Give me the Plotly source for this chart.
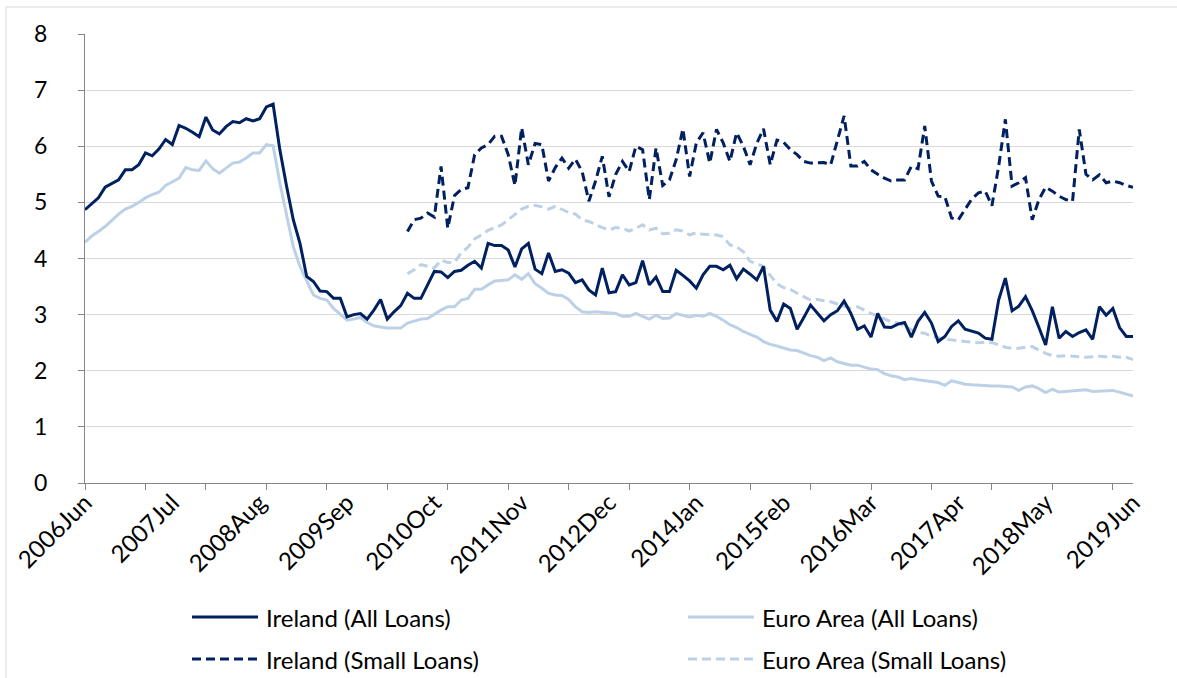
import plotly.graph_objects as go

# ---------------- data (monthly, 2006 Jun .. 2019 Jun) ----------------
month_index = list(range(157))
tick_labels = ["2006Jun", "2007Jul", "2008Aug", "2009Sep", "2010Oct", "2011Nov", "2012Dec",
               "2014Jan", "2015Feb", "2016Mar", "2017Apr", "2018May", "2019Jun"]
tick_positions = list(range(0, 157, 13))
minor_tick_positions = list(range(0, 157, 9))

ireland_all = [
    4.87, 4.97, 5.08, 5.27, 5.33, 5.40, 5.58, 5.58, 5.67, 5.88,
    5.83, 5.95, 6.12, 6.03, 6.37, 6.32, 6.25, 6.17, 6.52, 6.29,
    6.22, 6.35, 6.44, 6.42, 6.49, 6.45, 6.49, 6.70, 6.75, 5.94,
    5.29, 4.69, 4.27, 3.68, 3.59, 3.42, 3.41, 3.29, 3.29, 2.96,
    3.00, 3.02, 2.92, 3.08, 3.27, 2.92, 3.05, 3.16, 3.38, 3.29,
    3.29, 3.53, 3.77, 3.76, 3.66, 3.77, 3.79, 3.88, 3.95, 3.83,
    4.27, 4.23, 4.23, 4.15, 3.85, 4.17, 4.27, 3.81, 3.73, 4.10,
    3.77, 3.80, 3.74, 3.57, 3.62, 3.44, 3.35, 3.83, 3.39, 3.41,
    3.71, 3.53, 3.57, 3.96, 3.53, 3.67, 3.41, 3.41, 3.79, 3.70,
    3.60, 3.47, 3.71, 3.86, 3.86, 3.80, 3.88, 3.64, 3.81, 3.72,
    3.62, 3.86, 3.08, 2.88, 3.19, 3.11, 2.74, 2.95, 3.17, 3.03,
    2.89, 3.00, 3.07, 3.24, 3.02, 2.74, 2.80, 2.60, 3.02, 2.78,
    2.77, 2.83, 2.86, 2.60, 2.88, 3.04, 2.85, 2.52, 2.61, 2.79,
    2.89, 2.74, 2.71, 2.67, 2.58, 2.56, 3.26, 3.65, 3.07, 3.15,
    3.32, 3.07, 2.77, 2.46, 3.14, 2.58, 2.70, 2.61, 2.68, 2.73,
    2.56, 3.14, 2.99, 3.11, 2.77, 2.61, 2.61,
]

euro_all = [
    4.29, 4.40, 4.48, 4.57, 4.68, 4.79, 4.88, 4.93, 5.00, 5.08,
    5.14, 5.18, 5.30, 5.36, 5.43, 5.62, 5.58, 5.57, 5.74, 5.60,
    5.52, 5.61, 5.70, 5.72, 5.79, 5.88, 5.88, 6.03, 6.01, 5.35,
    4.75, 4.21, 3.86, 3.59, 3.35, 3.29, 3.26, 3.11, 3.01, 2.90,
    2.92, 2.95, 2.86, 2.80, 2.78, 2.76, 2.76, 2.76, 2.85, 2.88,
    2.92, 2.93, 3.01, 3.08, 3.14, 3.14, 3.26, 3.29, 3.45, 3.45,
    3.53, 3.60, 3.61, 3.62, 3.71, 3.63, 3.73, 3.55, 3.47, 3.38,
    3.35, 3.34, 3.27, 3.14, 3.05, 3.04, 3.05, 3.04, 3.03, 3.02,
    2.97, 2.97, 3.02, 2.97, 2.92, 2.99, 2.93, 2.94, 3.02, 2.99,
    2.96, 2.99, 2.97, 3.02, 2.97, 2.90, 2.82, 2.77, 2.70, 2.65,
    2.60, 2.52, 2.47, 2.44, 2.40, 2.37, 2.36, 2.31, 2.27, 2.24,
    2.18, 2.23, 2.16, 2.13, 2.10, 2.10, 2.06, 2.03, 2.02, 1.95,
    1.91, 1.89, 1.84, 1.86, 1.84, 1.82, 1.81, 1.79, 1.74, 1.82,
    1.79, 1.76, 1.75, 1.74, 1.74, 1.73, 1.73, 1.72, 1.71, 1.65,
    1.71, 1.73, 1.68, 1.61, 1.67, 1.62, 1.63, 1.64, 1.65, 1.66,
    1.63, 1.64, 1.65, 1.65, 1.62, 1.58, 1.55,
]

ireland_small = [None] * 48 + [
    4.48, 4.69, 4.72, 4.81, 4.74, 5.64, 4.54, 5.12, 5.23, 5.26,
    5.85, 5.97, 6.03, 6.18, 6.18, 5.85, 5.30, 6.33, 5.67, 6.05,
    6.03, 5.38, 5.62, 5.79, 5.61, 5.77, 5.55, 5.02, 5.38, 5.82,
    5.10, 5.50, 5.73, 5.55, 6.00, 5.94, 5.05, 5.97, 5.30, 5.40,
    5.76, 6.31, 5.46, 6.06, 6.24, 5.70, 6.30, 6.06, 5.73, 6.24,
    6.00, 5.67, 6.05, 6.31, 5.67, 6.11, 6.07, 5.94, 5.85, 5.73,
    5.70, 5.71, 5.71, 5.67, 6.09, 6.54, 5.65, 5.65, 5.73, 5.58,
    5.50, 5.43, 5.38, 5.40, 5.40, 5.64, 5.60, 6.36, 5.38, 5.11,
    5.10, 4.72, 4.69, 4.87, 5.06, 5.17, 5.20, 4.94, 5.64, 6.48,
    5.29, 5.35, 5.44, 4.69, 5.05, 5.27, 5.20, 5.11, 5.05, 5.02,
    6.30, 5.50, 5.40, 5.49, 5.35, 5.38, 5.35, 5.30, 5.27,
]

euro_small = [None] * 48 + [
    3.73, 3.80, 3.89, 3.86, 3.83, 3.97, 3.93, 3.93, 4.10, 4.20,
    4.35, 4.42, 4.50, 4.55, 4.60, 4.69, 4.78, 4.88, 4.93, 4.95,
    4.92, 4.88, 4.93, 4.87, 4.82, 4.79, 4.69, 4.66, 4.60, 4.55,
    4.51, 4.55, 4.54, 4.49, 4.54, 4.60, 4.51, 4.54, 4.44, 4.45,
    4.51, 4.49, 4.42, 4.46, 4.43, 4.43, 4.42, 4.39, 4.24, 4.21,
    4.12, 3.95, 3.90, 3.86, 3.70, 3.55, 3.48, 3.45, 3.38, 3.32,
    3.26, 3.27, 3.25, 3.23, 3.19, 3.15, 3.11, 3.14, 3.08, 3.02,
    2.98, 2.92, 2.87, 2.85, 2.80, 2.73, 2.68, 2.67, 2.61, 2.59,
    2.56, 2.55, 2.53, 2.52, 2.51, 2.50, 2.51, 2.50, 2.46, 2.42,
    2.40, 2.40, 2.42, 2.43, 2.37, 2.31, 2.27, 2.26, 2.27, 2.26,
    2.25, 2.24, 2.25, 2.26, 2.25, 2.26, 2.24, 2.24, 2.20,
]

series_names = ["Ireland (All Loans)", "Euro Area (All Loans)",
                "Ireland (Small Loans)", "Euro Area (Small Loans)"]

# ---------------- style ----------------
DARK = "#002060"
LIGHT = "#bdd1e6"
DASH = "9px,5px"
FONT = "Lato, Calibri, Carlito, sans-serif"
FS = 24

fig = go.Figure()
styles = [
    (ireland_all, DARK, "solid"),
    (euro_all, LIGHT, "solid"),
    (ireland_small, DARK, DASH),
    (euro_small, LIGHT, DASH),
]
# draw order: light first so dark sits on top
for idx in [3, 1, 2, 0]:
    vals, col, dash = styles[idx]
    fig.add_trace(go.Scatter(x=month_index, y=vals, mode="lines", name=series_names[idx],
                             line=dict(color=col, width=3, dash=dash),
                             connectgaps=False, showlegend=False))

# dummy trace for the label axis
fig.add_trace(go.Scatter(x=[0, 156], y=[0, 0], xaxis="x2", mode="lines",
                         line=dict(width=0), opacity=0, showlegend=False, hoverinfo="skip"))

# ---------------- manual legend (line samples + text) ----------------
L, R, T, B = 85, 1133, 34, 483
W, H = R - L, B - T
def px(x):
    return (x - L) / W
def py(y):
    return (B - y) / H

legend_items = [
    (series_names[0], DARK, "solid", 192, 617),
    (series_names[1], LIGHT, "solid", 688, 617),
    (series_names[2], DARK, DASH, 192, 659),
    (series_names[3], LIGHT, DASH, 688, 659),
]
shapes = []
annotations = []
for name, col, dash, x0, yy in legend_items:
    shapes.append(dict(type="line", xref="paper", yref="paper",
                       x0=px(x0), x1=px(x0 + 66), y0=py(yy), y1=py(yy),
                       line=dict(color=col, width=3, dash=dash)))
    annotations.append(dict(text=name, xref="paper", yref="paper",
                            x=px(x0 + 72), y=py(yy), xanchor="left", yanchor="middle",
                            showarrow=False, font=dict(family=FONT, size=FS, color="#000000")))

# outer chart border (only left/top edges fall inside the image)
shapes.append(dict(type="rect", xref="paper", yref="paper",
                   x0=px(6), x1=px(1190), y0=py(700), y1=py(7),
                   line=dict(color="#d9d9d9", width=1), layer="below"))

fig.update_layout(
    width=1177, height=678,
    margin=dict(l=L, r=1177 - R, t=T, b=678 - B, autoexpand=False),
    paper_bgcolor="white", plot_bgcolor="white",
    font=dict(family=FONT, size=FS, color="#000000"),
    showlegend=False,
    shapes=shapes,
    annotations=annotations,
    xaxis=dict(range=[0, 156], tickmode="array", tickvals=minor_tick_positions,
               ticktext=[""] * len(minor_tick_positions),
               ticks="outside", ticklen=6, tickcolor="#868686", tickwidth=1,
               showline=True, linecolor="#868686", linewidth=1,
               showgrid=False, zeroline=False, fixedrange=True),
    xaxis2=dict(range=[0, 156], overlaying="x", anchor="y", side="bottom",
                tickmode="array", tickvals=tick_positions, ticktext=tick_labels,
                tickangle=-45, ticks="", showline=False, showgrid=False, zeroline=False,
                tickfont=dict(family=FONT, size=FS, color="#000000")),
    yaxis=dict(range=[0, 8], dtick=1, tick0=0,
               ticks="outside", ticklen=6, tickcolor="#868686",
               showline=True, linecolor="#868686", linewidth=1,
               showgrid=True, gridcolor="#d9d9d9", gridwidth=1,
               zeroline=False, ticklabelstandoff=26,
               tickfont=dict(family=FONT, size=23, color="#000000")),
)

fig.write_html("out.html", config={"displayModeBar": False},
               post_script="document.body.style.margin='0px';document.body.style.overflow='hidden';")
